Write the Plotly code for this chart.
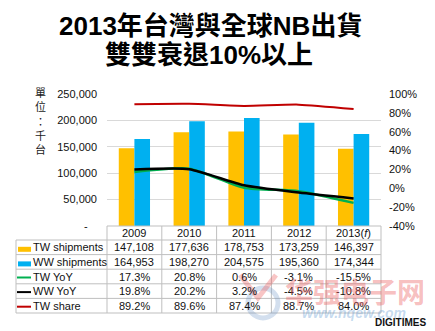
import plotly.graph_objects as go

# ---- data (thousand units / percent) ----
years = ["2009", "2010", "2011", "2012", "2013(<i>f</i>)"]
tw_shipments = [147108, 177636, 178753, 173259, 146397]
ww_shipments = [164953, 198270, 204575, 195360, 174344]
tw_yoy = [17.3, 20.8, 0.6, -3.1, -15.5]
ww_yoy = [19.8, 20.2, 3.2, -4.5, -10.8]
tw_share = [89.2, 89.6, 87.4, 88.7, 84.0]

left_ticks = [0, 50000, 100000, 150000, 200000, 250000]
left_ticktext = ["" if v == 0 else f"{v:,}" for v in left_ticks]   # zero drawn as a dash below
right_ticks = [-40, -20, 0, 20, 40, 60, 80, 100]
right_ticktext = [f"{v}%" for v in right_ticks]

ORANGE = "#FFC000"
BLUE = "#00B0F0"
GREEN = "#00B050"
BLACK = "#000000"
RED = "#C00000"
GRID = "#D9D9D9"
TBL = "#BFBFBF"
FONT = "Liberation Sans, Arial, Noto Sans CJK TC, sans-serif"

W, H = 435, 331
L, R, T, B = 107, 381, 94, 226   # plot area in pixels


def fx(x):
    return (x - L) / (R - L)


def fy(y):
    return (B - y) / (B - T)


fig = go.Figure()
fig.add_bar(x=years, y=tw_shipments, marker_color=ORANGE, marker_line_width=0, name="TW shipments")
fig.add_bar(x=years, y=ww_shipments, marker_color=BLUE, marker_line_width=0, name="WW shipments")
fig.add_scatter(x=years, y=tw_share, yaxis="y2", mode="lines",
                line=dict(color=RED, width=2, shape="spline", smoothing=0.6), name="TW share")
fig.add_scatter(x=years, y=tw_yoy, yaxis="y2", mode="lines",
                line=dict(color=GREEN, width=2.5, shape="spline", smoothing=0.6), name="TW YoY")
fig.add_scatter(x=years, y=ww_yoy, yaxis="y2", mode="lines",
                line=dict(color=BLACK, width=2.5, shape="spline", smoothing=0.6), name="WW YoY")

shapes = []
annotations = []

# ---- data table under the plot ----
ncat = len(years)
col_w = (R - L) / ncat
row_top = 240
row_h = (313 - row_top) / 5
tbl_left = 16

line = dict(color=TBL, width=1)
shapes.append(dict(type="line", xref="paper", yref="paper", x0=fx(L), x1=fx(R), y0=fy(B), y1=fy(B), line=line))
for k in range(6):
    yy = row_top + k * row_h
    shapes.append(dict(type="line", xref="paper", yref="paper", x0=fx(tbl_left), x1=fx(R),
                       y0=fy(yy), y1=fy(yy), line=line))
shapes.append(dict(type="line", xref="paper", yref="paper", x0=fx(tbl_left), x1=fx(tbl_left),
                   y0=fy(row_top), y1=fy(313), line=line))
for k in range(ncat + 1):
    xx = L + k * col_w
    shapes.append(dict(type="line", xref="paper", yref="paper", x0=fx(xx), x1=fx(xx),
                       y0=fy(B), y1=fy(313), line=line))

cell_font = dict(family=FONT, size=11, color="#111111")

# zero on the left axis shown as an accounting dash
annotations.append(dict(xref="paper", yref="y", x=fx(90), y=0, text="-", showarrow=False,
                        font=cell_font, xanchor="right", yanchor="middle"))

# header row: years
for i, yr in enumerate(years):
    annotations.append(dict(xref="paper", yref="paper", x=fx(L + (i + 0.5) * col_w), y=fy(233),
                            text=yr, showarrow=False, font=cell_font, xanchor="center", yanchor="middle"))

rows = [
    ("TW shipments", tw_shipments, "{:,}", ("rect", ORANGE)),
    ("WW shipments", ww_shipments, "{:,}", ("rect", BLUE)),
    ("TW YoY", tw_yoy, "{:.1f}%", ("line", GREEN)),
    ("WW YoY", ww_yoy, "{:.1f}%", ("line", BLACK)),
    ("TW share", tw_share, "{:.1f}%", ("line", RED)),
]
for r, (label, vals, fmt, (kind, color)) in enumerate(rows):
    cy = row_top + (r + 0.5) * row_h
    annotations.append(dict(xref="paper", yref="paper", x=fx(31), y=fy(cy), text=label,
                            showarrow=False, font=cell_font, xanchor="left", yanchor="middle"))
    if kind == "rect":
        shapes.append(dict(type="rect", xref="paper", yref="paper", x0=fx(18), x1=fx(31),
                           y0=fy(cy + 4.5), y1=fy(cy - 0.5), fillcolor=color, line=dict(width=0)))
    else:
        shapes.append(dict(type="line", xref="paper", yref="paper", x0=fx(17), x1=fx(31),
                           y0=fy(cy + 1), y1=fy(cy + 1), line=dict(color=color, width=2)))
    for i, v in enumerate(vals):
        annotations.append(dict(xref="paper", yref="paper", x=fx(L + (i + 0.5) * col_w), y=fy(cy),
                                text=fmt.format(v), showarrow=False, font=cell_font,
                                xanchor="center", yanchor="middle"))

# ---- title ----
title_font = dict(family="Liberation Sans, Noto Sans CJK TC, sans-serif", size=26, color="#000000")
annotations.append(dict(xref="paper", yref="paper", x=fx(210), y=fy(26),
                        text="<b>2013年台灣與全球NB出貨</b>", showarrow=False, font=title_font,
                        xanchor="center", yanchor="middle"))
annotations.append(dict(xref="paper", yref="paper", x=fx(209), y=fy(55),
                        text="<b>雙雙衰退10%以上</b>", showarrow=False, font=title_font,
                        xanchor="center", yanchor="middle"))

# ---- unit label (vertical) ----
annotations.append(dict(xref="paper", yref="paper", x=fx(40), y=fy(120),
                        text="單<br>位<br>：<br>千<br>台", showarrow=False,
                        font=dict(family="Noto Sans CJK TC, sans-serif", size=11, color="#222222"),
                        xanchor="center", yanchor="middle"))

# ---- watermark & source mark ----
shapes.append(dict(type="circle", xref="paper", yref="paper", x0=fx(248), x1=fx(278),
                   y0=fy(318), y1=fy(288), line=dict(color="rgba(110,150,200,0.3)", width=5)))
shapes.append(dict(type="path", xref="paper", yref="paper",
                   path=f"M {fx(240)} {fy(275)} L {fx(258)} {fy(298)} L {fx(276)} {fy(275)}",
                   line=dict(color="rgba(235,90,90,0.35)", width=5)))
annotations.append(dict(xref="paper", yref="paper", x=fx(355), y=fy(291),
                        text="<b>华强电子网</b>", showarrow=False,
                        font=dict(family="Noto Sans CJK SC, sans-serif", size=28, color="rgba(235,90,90,0.4)"),
                        xanchor="center", yanchor="middle"))
annotations.append(dict(xref="paper", yref="paper", x=fx(354), y=fy(313),
                        text="<b><i>www.hqew.com</i></b>", showarrow=False,
                        font=dict(family="Liberation Sans, sans-serif", size=14, color="rgba(90,150,210,0.35)"),
                        xanchor="center", yanchor="middle"))
annotations.append(dict(xref="paper", yref="paper", x=fx(428), y=fy(322),
                        text="<b>DIGITIMES</b>", showarrow=False,
                        font=dict(family="Liberation Sans, sans-serif", size=10, color="#111111"),
                        xanchor="right", yanchor="middle"))

fig.update_layout(
    width=W, height=H, autosize=False,
    margin=dict(l=L, r=W - R, t=T, b=H - B, pad=0),
    paper_bgcolor="white", plot_bgcolor="white",
    showlegend=False,
    barmode="group", bargap=0.43, bargroupgap=0,
    xaxis=dict(type="category", range=[-0.5, ncat - 0.5], showticklabels=False, ticks="",
               showgrid=False, zeroline=False, showline=False, automargin=False),
    yaxis=dict(range=[0, 250000], tickmode="array", tickvals=left_ticks, ticktext=left_ticktext,
               showgrid=True, gridcolor=GRID, gridwidth=1, zeroline=False, showline=False, ticks="",
               ticklabelstandoff=9, automargin=False,
               tickfont=dict(family=FONT, size=11, color="#111111")),
    yaxis2=dict(range=[-40, 100], tickmode="array", tickvals=right_ticks, ticktext=right_ticktext,
                overlaying="y", side="right", showgrid=False, zeroline=False, showline=False,
                ticks="", ticklabelstandoff=7, automargin=False,
                tickfont=dict(family=FONT, size=11, color="#111111")),
    shapes=shapes,
    annotations=annotations,
)

fig.write_html("out.html")
